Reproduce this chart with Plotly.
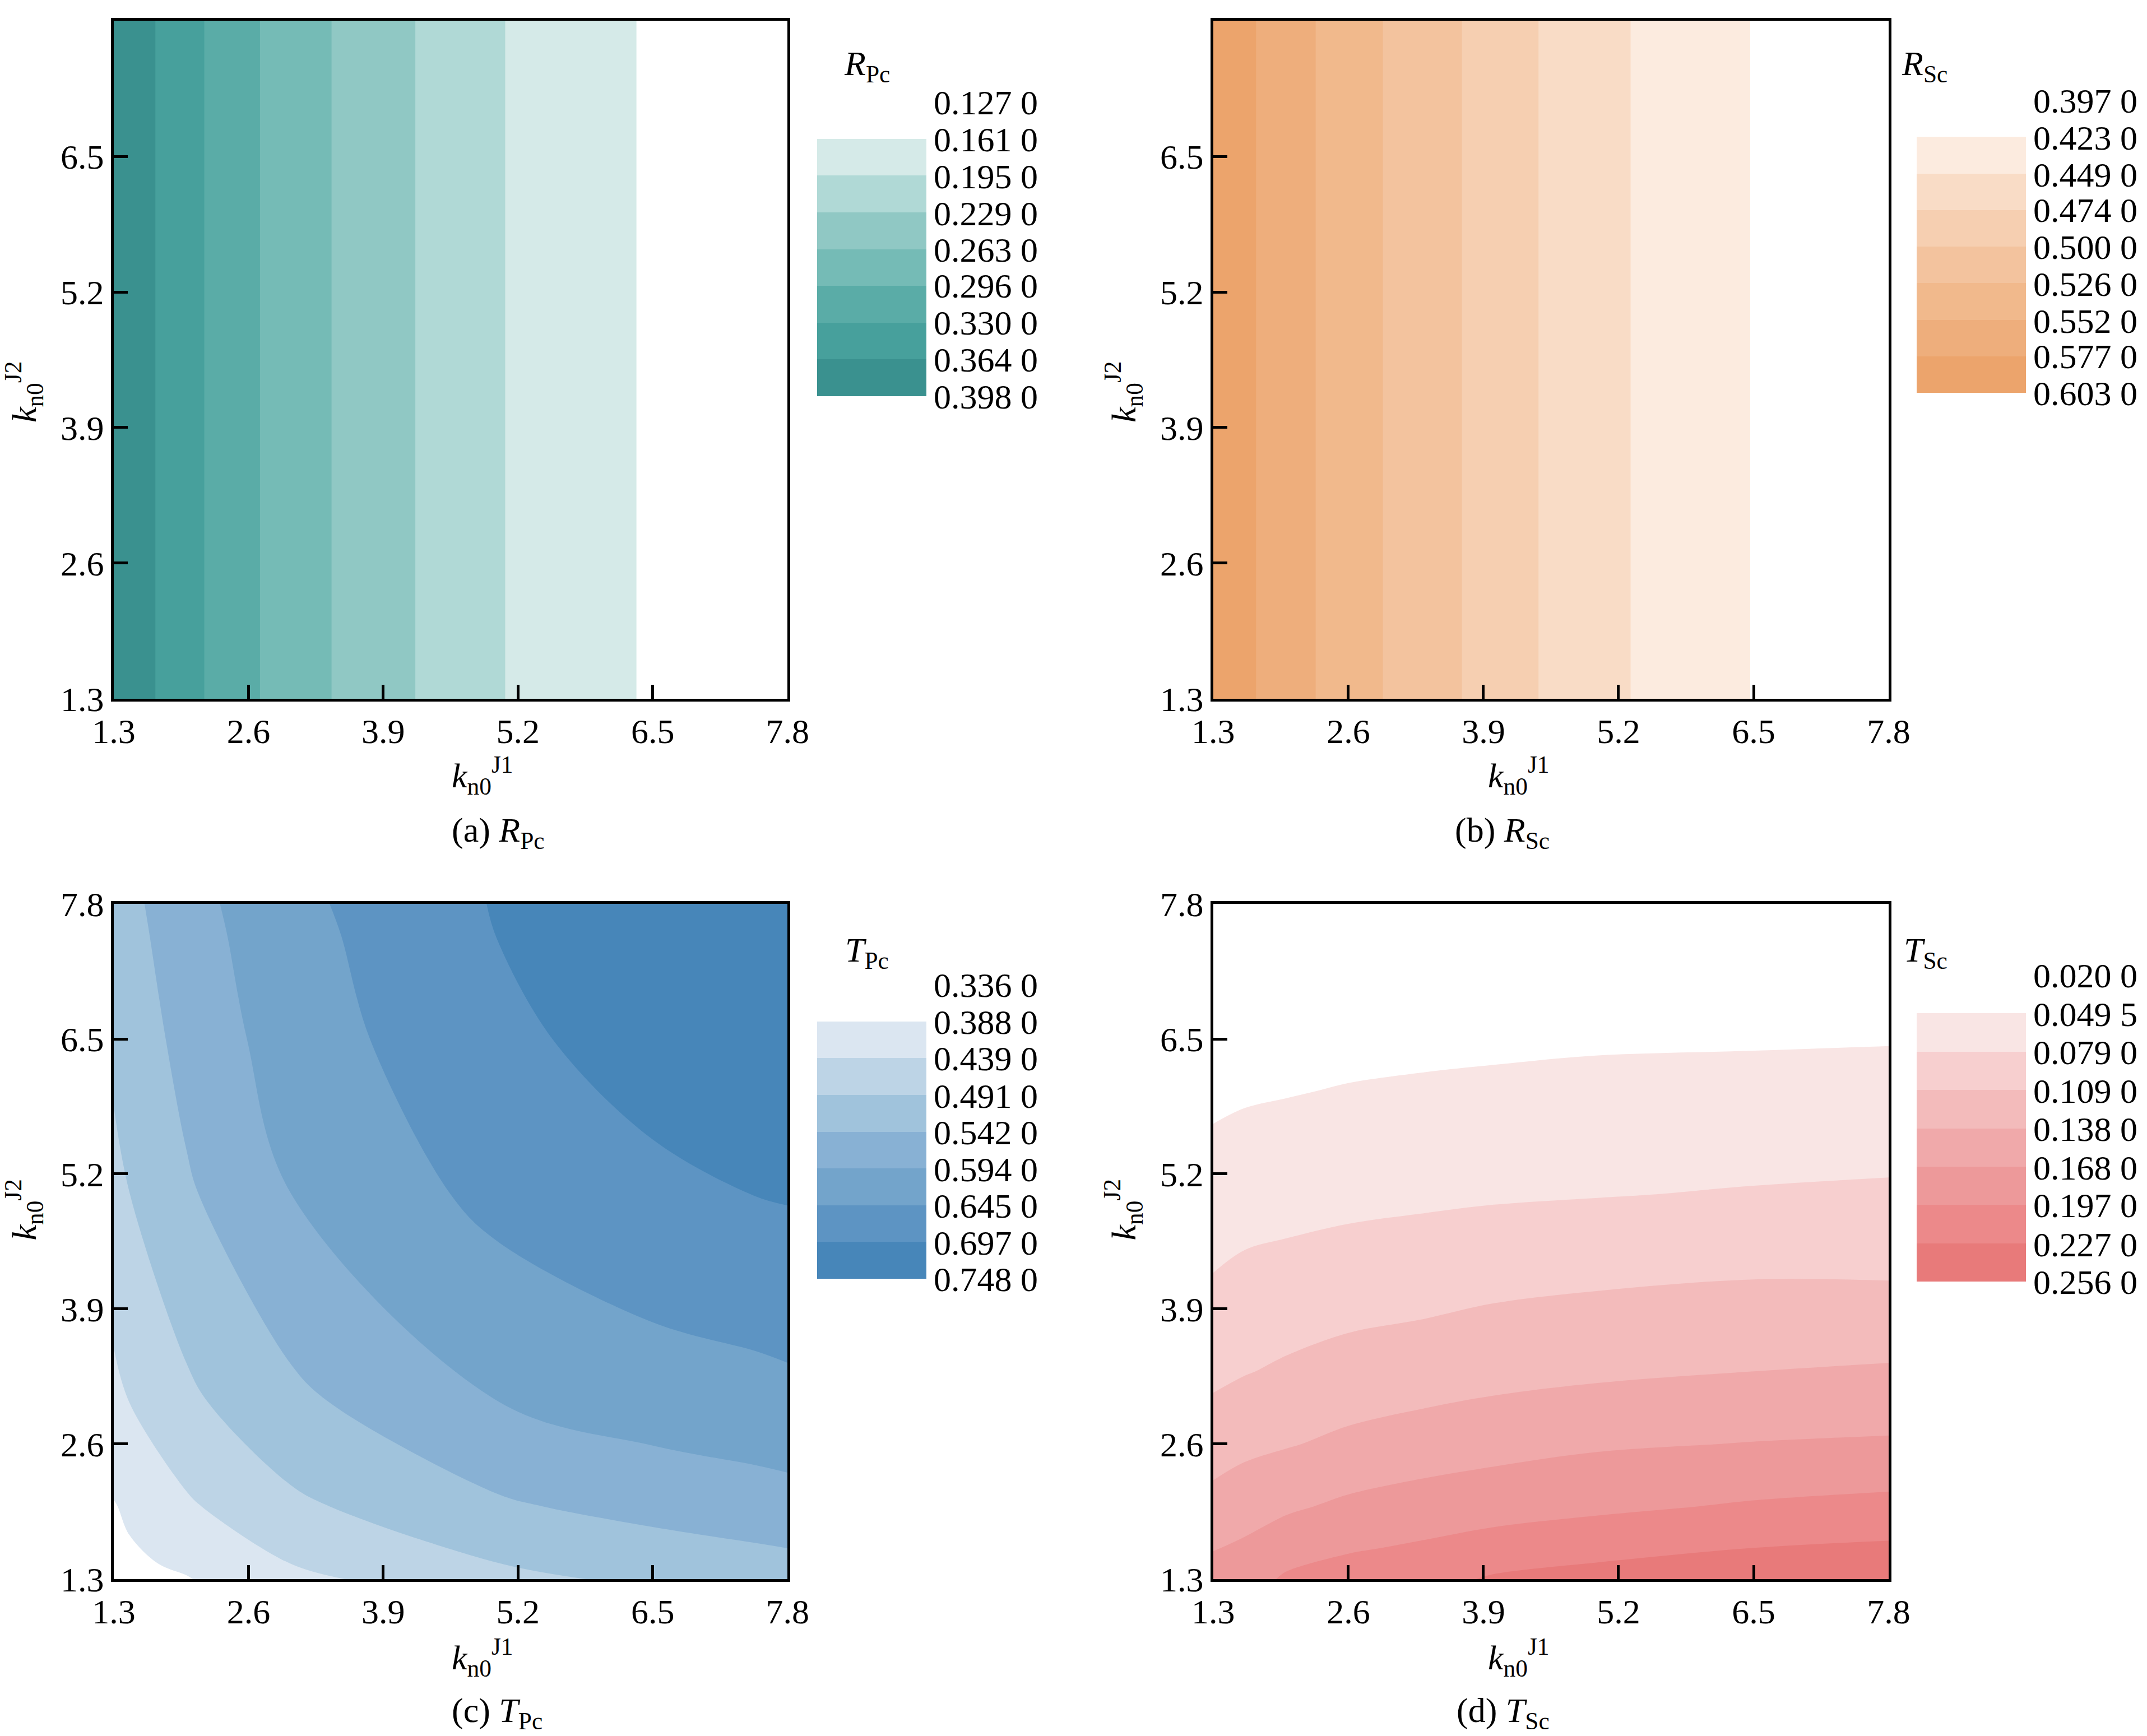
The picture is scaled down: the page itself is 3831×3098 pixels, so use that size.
import plotly.graph_objects as go

# ---------------------------------------------------------------------------
# Data
# ---------------------------------------------------------------------------

K_GRID_R = [1.3, 1.95, 2.6, 3.25, 3.9, 4.55, 5.2, 5.85, 6.5, 7.15, 7.8]
K_Y_R = [1.3, 7.8]

R_PC_ROW = [0.395, 0.345, 0.302, 0.269, 0.241, 0.215, 0.190, 0.173, 0.157, 0.142, 0.128]
R_SC_ROW = [0.595, 0.567, 0.537, 0.515, 0.493, 0.470, 0.451, 0.437, 0.422, 0.410, 0.399]

K_GRID_T = [1.3, 1.45, 2.0, 3.0, 5.0, 6.5, 7.5, 7.8]
T_PC = [
    [0.362, 0.372, 0.385, 0.425, 0.478, 0.500, 0.515, 0.520],
    [0.372, 0.380, 0.395, 0.439, 0.490, 0.512, 0.526, 0.530],
    [0.385, 0.395, 0.432, 0.480, 0.535, 0.559, 0.571, 0.575],
    [0.425, 0.439, 0.480, 0.530, 0.593, 0.618, 0.628, 0.632],
    [0.478, 0.490, 0.535, 0.593, 0.660, 0.688, 0.697, 0.700],
    [0.500, 0.512, 0.559, 0.618, 0.688, 0.712, 0.725, 0.730],
    [0.515, 0.526, 0.571, 0.628, 0.697, 0.725, 0.735, 0.740],
    [0.520, 0.530, 0.575, 0.632, 0.700, 0.730, 0.740, 0.745],
]

K_X_TS = [1.3, 1.6, 2.0, 2.6, 3.3, 4.0, 5.0, 6.5, 7.8]
K_Y_TS = [1.3, 1.6, 2.0, 2.6, 3.3, 4.2, 5.0, 6.0, 6.5, 7.8]
T_SC = [
    [0.180, 0.184, 0.201, 0.210, 0.2155, 0.230, 0.238, 0.246, 0.251],
    [0.166, 0.172, 0.184, 0.194, 0.2005, 0.208, 0.2165, 0.2265, 0.231],
    [0.148, 0.155, 0.163, 0.173, 0.1805, 0.186, 0.1915, 0.200, 0.205],
    [0.124, 0.131, 0.136, 0.144, 0.151, 0.157, 0.164, 0.1685, 0.171],
    [0.102, 0.107, 0.1126, 0.120, 0.124, 0.1285, 0.133, 0.138, 0.141],
    [0.080, 0.085, 0.088, 0.092, 0.096, 0.101, 0.1045, 0.108, 0.1075],
    [0.0635, 0.067, 0.069, 0.072, 0.074, 0.076, 0.078, 0.081, 0.083],
    [0.043, 0.046, 0.048, 0.051, 0.053, 0.055, 0.057, 0.058, 0.059],
    [0.0326, 0.036, 0.038, 0.041, 0.043, 0.044, 0.046, 0.047, 0.048],
    [0.021, 0.022, 0.024, 0.025, 0.026, 0.027, 0.028, 0.029, 0.030],
]

LEVELS_RPC = [0.127, 0.161, 0.195, 0.229, 0.263, 0.296, 0.330, 0.364, 0.398]
LEVELS_RSC = [0.397, 0.423, 0.449, 0.474, 0.500, 0.526, 0.552, 0.577, 0.603]
LEVELS_TPC = [0.336, 0.388, 0.439, 0.491, 0.542, 0.594, 0.645, 0.697, 0.748]
LEVELS_TSC = [0.0200, 0.0495, 0.0790, 0.1090, 0.1380, 0.1680, 0.1970, 0.2270, 0.2560]
LABELS_TSC = ["0.020 0", "0.049 5", "0.079 0", "0.109 0", "0.138 0",
              "0.168 0", "0.197 0", "0.227 0", "0.256 0"]

# band colours, darkest (highest value) first, white last
COLORS_RPC = ["#3a918f", "#47a09c", "#5aaca7", "#75bbb6", "#90c8c4", "#b0d9d6", "#d5eae8", "#ffffff"]
COLORS_RSC = ["#eca46c", "#eeae7c", "#f1b98c", "#f3c39e", "#f6cfb1", "#f9dcc6", "#fcebdf", "#ffffff"]
COLORS_TPC = ["#4786b9", "#5d94c3", "#73a4cb", "#88b1d4", "#a0c3dc", "#bdd4e6", "#dbe6f1", "#ffffff"]
COLORS_TSC = ["#e87a7a", "#ec898a", "#ed999a", "#f0a9aa", "#f3bbbb", "#f7cfcf", "#f9e5e4", "#ffffff"]

TICKS = [1.3, 2.6, 3.9, 5.2, 6.5, 7.8]

FONT = "Liberation Serif"
FS = 62
W, H = 3831, 3098

# panel geometry (paper coords)
XA = [0.0509, 0.3647]
XB = [0.5630, 0.8776]
YTOP = [0.6001, 0.9906]
YBOT = [0.0930, 0.4819]


def step_scale(colors):
    n = len(colors)
    cs = []
    for i, c in enumerate(colors):
        cs.append([i / n, c])
        cs.append([(i + 1) / n, c])
    return cs


def fmt(v):
    return f"{v:.3f} 0"


fig = go.Figure()

panels = [
    # x, y, z, levels, colors, labels, axis idx, cb x, cb y, cb len
    (K_GRID_R, K_Y_R, [R_PC_ROW, R_PC_ROW], LEVELS_RPC, COLORS_RPC, None, 1, 0.376, 0.859, 545),
    (K_GRID_R, K_Y_R, [R_SC_ROW, R_SC_ROW], LEVELS_RSC, COLORS_RSC, None, 2, 0.888, 0.8605, 542),
    (K_GRID_T, K_GRID_T, T_PC, LEVELS_TPC, COLORS_TPC, None, 3, 0.376, 0.3506, 545),
    (K_X_TS, K_Y_TS, T_SC, LEVELS_TSC, COLORS_TSC, LABELS_TSC, 4, 0.888, 0.3525, 567),
]

for x, y, z, levels, colors, labels, idx, cbx, cby, cblen in panels:
    # negate so that the colour bar reads low values at the top, as in the reference
    zn = [[-v for v in row] for row in z]
    start, end = -levels[-1], -levels[0]
    size = (end - start) / (len(levels) - 1)
    suffix = "" if idx == 1 else str(idx)
    fig.add_trace(go.Contour(
        x=x, y=y, z=zn,
        xaxis="x" + suffix, yaxis="y" + suffix,
        contours=dict(start=start, end=end, size=size, coloring="fill", showlines=False),
        line=dict(width=0),
        colorscale=step_scale(colors),
        zmin=start, zmax=end,
        hoverinfo="skip",
        colorbar=dict(
            x=cbx, xanchor="left", y=cby, yanchor="middle",
            len=cblen, lenmode="pixels", thickness=195,
            outlinewidth=0, ticks="", ticklen=0,
            tickvals=[-v for v in levels],
            ticktext=labels if labels else [fmt(v) for v in levels],
            tickfont=dict(family=FONT, size=FS, color="black"),
        ),
    ))

axis_style = dict(
    range=[1.3, 7.8], tickvals=TICKS, ticktext=[f"{t:.1f}" for t in TICKS],
    ticks="inside", ticklen=25, tickwidth=5, tickcolor="black",
    showline=True, linecolor="black", linewidth=5, mirror=True,
    showgrid=False, zeroline=False, automargin=False,
    tickfont=dict(family=FONT, size=FS, color="black"),
)

layout = dict(
    width=W, height=H,
    margin=dict(l=0, r=0, t=0, b=0, autoexpand=False),
    paper_bgcolor="white", plot_bgcolor="white",
    font=dict(family=FONT, size=FS, color="black"),
    showlegend=False,
)
doms = [(XA, YTOP), (XB, YTOP), (XA, YBOT), (XB, YBOT)]
for i, (dx, dy) in enumerate(doms, start=1):
    s = "" if i == 1 else str(i)
    layout["xaxis" + s] = dict(axis_style, domain=dx, anchor="y" + s)
    layout["yaxis" + s] = dict(axis_style, domain=dy, anchor="x" + s)
fig.update_layout(**layout)

XT = "<i>k</i><sub>n0</sub><sup>J1</sup>"
YT = "<i>k</i><sub>n0</sub><sup>J2</sup>"
captions = ["(a) <i>R</i><sub>Pc</sub>", "(b) <i>R</i><sub>Sc</sub>",
            "(c) <i>T</i><sub>Pc</sub>", "(d) <i>T</i><sub>Sc</sub>"]
cb_titles = ["<i>R</i><sub>Pc</sub>", "<i>R</i><sub>Sc</sub>",
             "<i>T</i><sub>Pc</sub>", "<i>T</i><sub>Sc</sub>"]

ann = []
for i, (dx, dy) in enumerate(doms):
    cx = (dx[0] + dx[1]) / 2
    top = dy is YTOP
    ann.append(dict(text=XT, x=cx, y=0.556 if top else 0.048, xref="paper", yref="paper",
                    showarrow=False, yanchor="middle"))
    ann.append(dict(text=YT, x=dx[0] - 0.042, y=(dy[0] + dy[1]) / 2, xref="paper", yref="paper",
                    showarrow=False, textangle=-90, xanchor="center"))
    ann.append(dict(text=captions[i], x=cx, y=0.523 if top else 0.016, xref="paper", yref="paper",
                    showarrow=False, yanchor="middle"))
    ann.append(dict(text=cb_titles[i], x=0.4017 if dx is XA else 0.9055,
                    y=0.9645 if top else 0.454, xref="paper", yref="paper",
                    showarrow=False, yanchor="middle"))
fig.update_layout(annotations=ann)

fig.write_html("out.html")
